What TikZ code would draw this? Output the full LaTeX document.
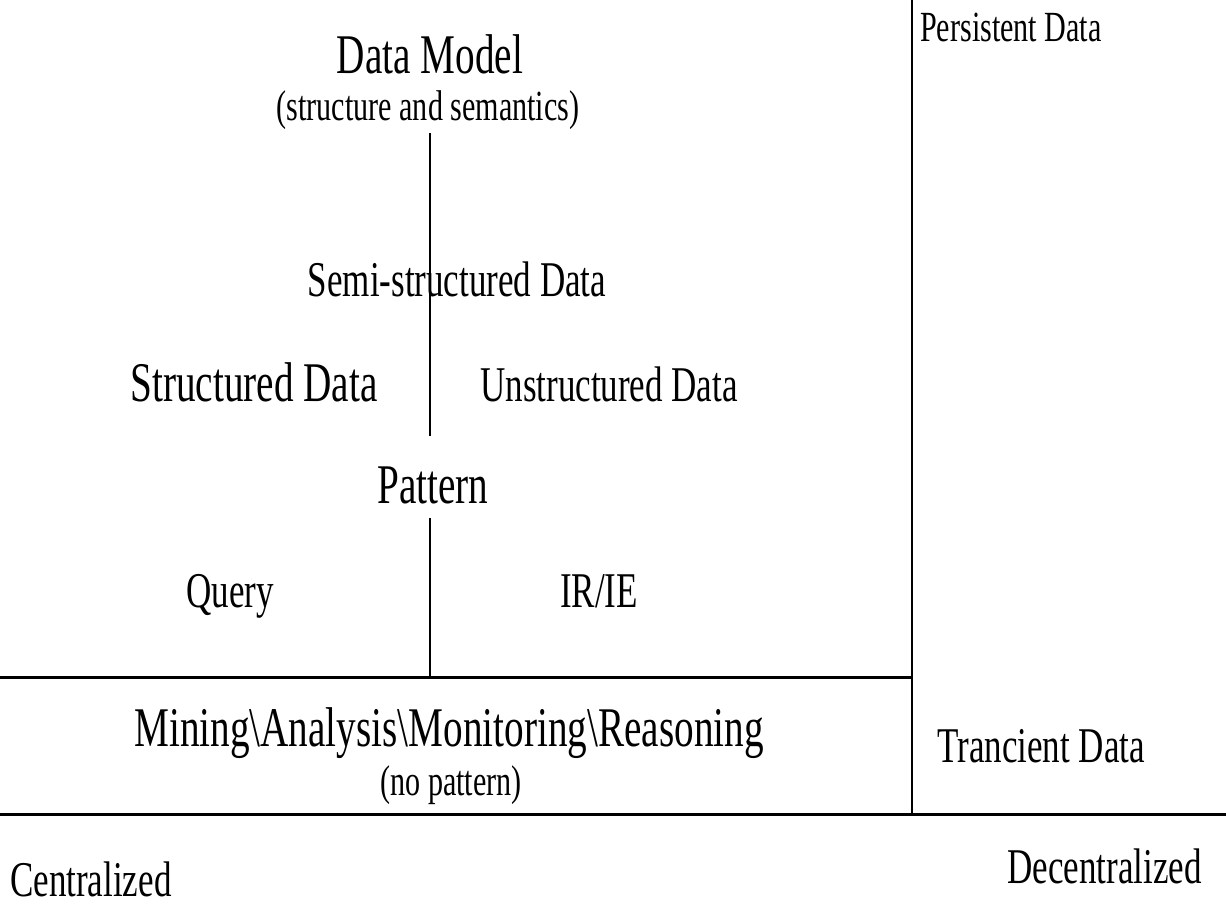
\documentclass[tikz,border=0pt]{standalone}
\usepackage{fontspec}
\setmainfont[FakeStretch=0.7]{Liberation Serif}
\usepackage{tikz}

\begin{document}
\begin{tikzpicture}[x=1pt, y=-1pt,
        every node/.style={inner sep=0pt, anchor=base},
        big/.style={font=\fontsize{56}{56}\selectfont},
        mid/.style={font=\fontsize{50}{50}\selectfont},
        small/.style={font=\fontsize{43}{43}\selectfont},
        rule/.style={line width=3pt},
        split/.style={line width=2pt}]
    \useasboundingbox (0,0) rectangle (1226,905);
    % text of the plan
    \node[big] (model) at (430,73) {Data Model};
    \node[small] (sem) at (428,120) {(structure and semantics)};
    \node[mid] (semi) at (457,296) {Semi-structured Data};
    \node[big] (struct) at (254,401) {Structured Data};
    \node[mid] (unstruct) at (609,401) {Unstructured Data};
    \node[big] (pattern) at (433,503) {Pattern};
    \node[mid] (query) at (230,607) {Query};
    \node[mid] (irie) at (599,607) {IR/IE};
    \node[big] (mining) at (449,746) {Mining\textbackslash Analysis\textbackslash Monitoring\textbackslash Reasoning};
    \node[small] (nopat) at (451,795) {(no pattern)};
    \node[small, anchor=base west] (persist) at (920,41) {Persistent Data};
    \node[mid, anchor=base west] (trans) at (937,762) {Trancient Data};
    \node[mid, anchor=base west] (central) at (10,896) {Centralized};
    \node[mid, anchor=base east] (decentral) at (1202,883) {Decentralized};
    % frame lines
    \coordinate (top) at (912,0);
    \coordinate (corner) at (912,814);
    \coordinate (midleft) at (0,677);
    \coordinate (midright) at (912,677);
    \coordinate (botleft) at (0,814);
    \coordinate (botright) at (1226,814);
    \coordinate (splitA) at (430,133);
    \coordinate (splitB) at (430,436);
    \coordinate (splitC) at (430,518);
    \coordinate (splitD) at (430,677);
    \draw[line width=2.5pt] (top) -- (corner);
    \draw[rule] (midleft) -- (midright);
    \draw[rule] (botleft) -- (botright);
    \draw[split] (splitA) -- (splitB);
    \draw[split] (splitC) -- (splitD);
\end{tikzpicture}
\end{document}
